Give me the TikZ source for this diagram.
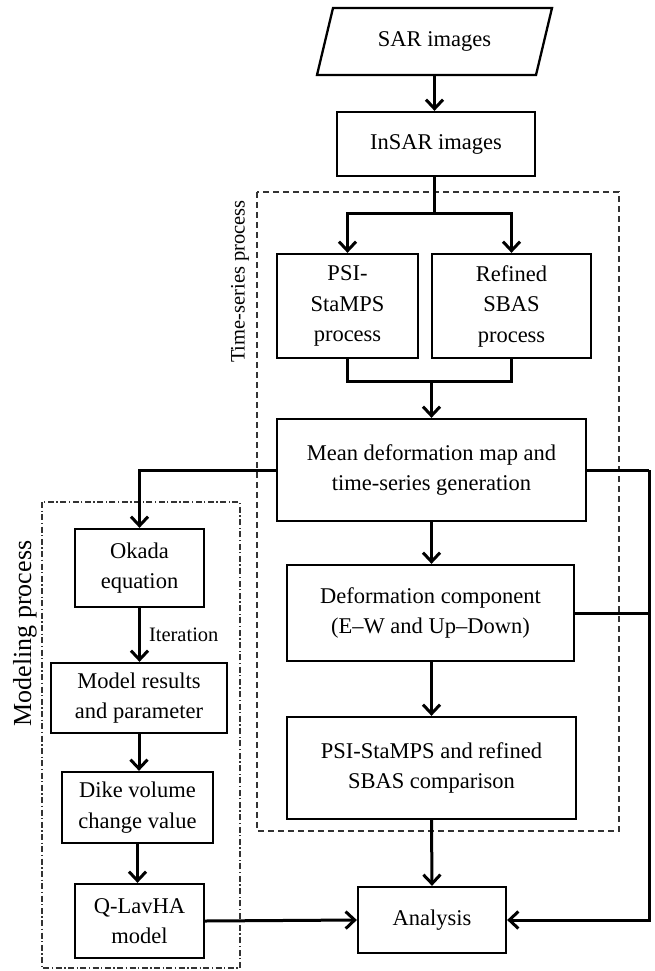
\documentclass[tikz,border=0pt]{standalone}
\usepackage{fontspec}
\setmainfont{Liberation Serif}
\usetikzlibrary{arrows.meta}
\begin{document}
\begin{tikzpicture}[x=1pt,y=-1pt,
  box/.style={draw, line width=2.3pt, align=center, inner sep=0pt,
    font=\fontsize{22.5}{30.5}\selectfont},
  ln/.style={line width=3pt},
  arr/.style={line width=3pt, -{Straight Barb[length=9pt,width=17pt,line width=3pt]}},
  tsframe/.style={draw=black!80, line width=1.3pt, dash pattern=on 6pt off 4pt},
  mdframe/.style={draw=black!80, line width=1.3pt, dash pattern=on 6pt off 2.5pt on 1.3pt off 2.5pt},
  lab/.style={font=\fontsize{20.5}{24}\selectfont, inner sep=0pt}
]
\useasboundingbox (0,0) rectangle (655,971);
% frames
\draw[tsframe] (257,192) rectangle (619,831);
\draw[mdframe] (42,502) rectangle (240,968);
\node[lab, rotate=90] (tslab) at (240,281.5) {Time-series process};
\node[lab, rotate=90, font=\fontsize{26}{30}\selectfont] (mdlab) at (25,633.5) {Modeling process};
% SAR parallelogram
\draw[line width=2.3pt, line join=miter] (333,8) -- (552,8) -- (536,75) -- (317,75) -- cycle;
\node[box, draw=none, minimum width=200pt, minimum height=67pt] (sar) at (434.5,41.5) {SAR images};
% boxes
\node[box, minimum width=198pt, minimum height=64pt] (insar) at (436,144) {InSAR images};
\node[box, minimum width=141pt, minimum height=104pt] (psi) at (347.5,306) {PSI-\\StaMPS\\process};
\node[box, minimum width=159pt, minimum height=104pt] (sbas) at (511.5,306) {Refined\\SBAS\\process};
\node[box, minimum width=309pt, minimum height=102pt] (mean) at (431.5,470) {Mean deformation map and\\time-series generation};
\node[box, minimum width=287pt, minimum height=96pt] (defo) at (430.5,613) {Deformation component\\(E--W and Up--Down)};
\node[box, minimum width=289pt, minimum height=102pt] (comp) at (431.5,768) {PSI-StaMPS and refined\\SBAS comparison};
\node[box, minimum width=148pt, minimum height=66pt] (ana) at (432,920) {Analysis};
\node[box, minimum width=129pt, minimum height=78pt] (okada) at (139.5,568) {Okada\\equation};
\node[box, minimum width=176pt, minimum height=70pt] (model) at (139,698) {Model results\\and parameter};
\node[box, minimum width=151pt, minimum height=71pt] (dike) at (137.5,807.5) {Dike volume\\change value};
\node[box, minimum width=129pt, minimum height=74pt] (qlav) at (139.5,921) {Q-LavHA\\model};
% connectors
\coordinate (j1) at (434.5,213);
\coordinate (j2) at (431.5,381);
\coordinate (r1) at (649,470);
\coordinate (r2) at (649,613);
\draw[arr] (sar.south) -- (sar.south |- insar.north);
\draw[ln] (insar.south -| j1) -- (j1);
\draw[arr] (j1) -| (psi.north);
\draw[arr] (j1) -| (sbas.north);
\draw[ln] (psi.south) |- (j2) -| (sbas.south);
\draw[arr] (j2) -- (mean.north);
\draw[arr] (mean.west) -| (okada.north);
\draw[ln] (mean.east) -- (r1);
\draw[ln] (defo.east) -- (r2);
\draw[arr] (r1) |- (ana.east);
\draw[arr] (mean.south) -- (defo.north -| mean.south);
\draw[arr] (defo.south -| comp.north) -- (comp.north);
\draw[arr] (comp.south) -- (ana.north);
\draw[arr] (okada.south) -- (model.north -| okada.south) node[midway, right=8pt, lab] (iter) {Iteration};
\draw[arr] (model.south) -- (dike.north -| model.south);
\draw[arr] (dike.south) -- (qlav.north -| dike.south);
\draw[arr] (qlav.east) -- (ana.west);
\end{tikzpicture}
\end{document}
